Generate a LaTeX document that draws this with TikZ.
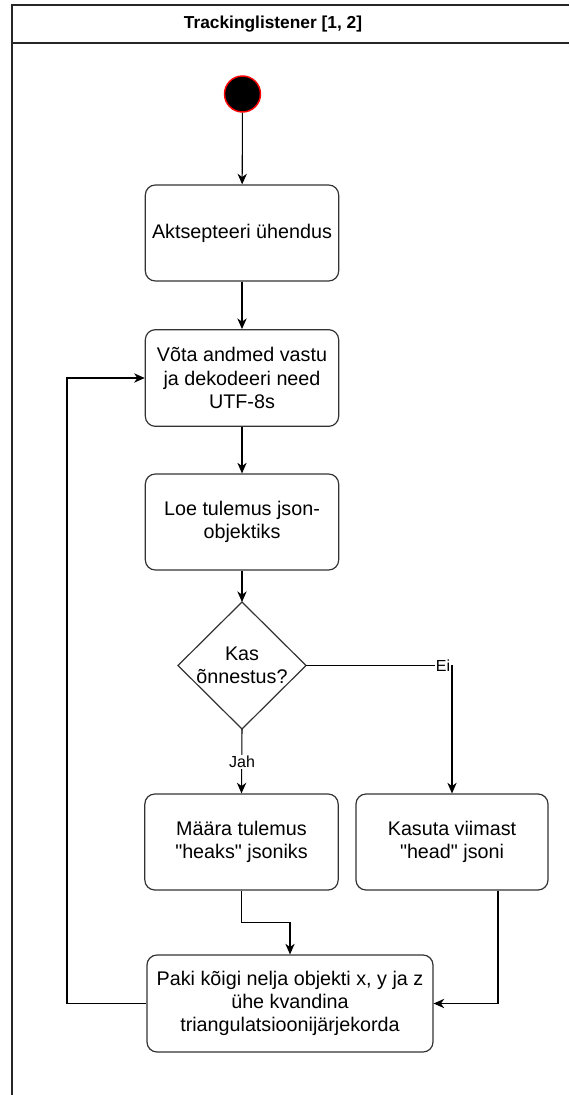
\documentclass[tikz,border=0pt]{standalone}
\usepackage{fontspec}
\setmainfont{Liberation Sans}[Ligatures=TeXOff]
\usetikzlibrary{arrows.meta,calc}

\tikzset{
  px/.style={x=0.75pt,y=-0.75pt},
  stepbox/.style={draw=black!80, line width=0.9pt, rounded corners=7.5pt, fill=white,
    align=center, inner sep=0pt, font=\fontsize{14.8}{17.3}\selectfont},
  flow/.style={draw=black, line width=0.8pt, -{Stealth[length=8pt,width=7pt,inset=2.5pt]}},
  edgelabel/.style={fill=white, inner sep=1pt, font=\fontsize{12}{14}\selectfont},
  frame/.style={draw=black!85, line width=1.1pt},
}

\begin{document}
\begin{tikzpicture}[px]
  \useasboundingbox (0,0) rectangle (569,1095);

  % swimlane frame with its title band
  \draw[frame] (569,5) -- (12,5) -- (12,1095);
  \draw[frame] (12,43) -- (569,43);
  \node[font=\bfseries\fontsize{13}{15}\selectfont] (title) at (273,24) {Trackinglistener [1, 2]};

  % initial state
  \node[circle, fill=black, draw=red, line width=1.1pt, minimum size=27pt, inner sep=0pt] (start) at (242.5,94) {};

  % actions
  \node[stepbox, minimum width=145pt, minimum height=72pt] (accept) at (242,233) {Aktsepteeri ühendus};
  \node[stepbox, minimum width=145pt, minimum height=72.5pt] (receive) at (242,378) {Võta andmed vastu\\ja dekodeeri need\\UTF-8s};
  \node[stepbox, minimum width=145pt, minimum height=72pt] (parse) at (242,522) {Loe tulemus json-\\objektiks};
  \node[stepbox, minimum width=145pt, minimum height=72pt] (setgood) at (241.5,842) {Määra tulemus\\"heaks" jsoniks};
  \node[stepbox, minimum width=144pt, minimum height=72pt] (uselast) at (452,842) {Kasuta viimast\\"head" jsoni};
  \node[stepbox, minimum width=214.5pt, minimum height=72.75pt] (pack) at (290,1003.5) {Paki kõigi nelja objekti x, y ja z\\ühe kvandina\\triangulatsioonijärjekorda};

  % decision
  \node[align=center, inner sep=0pt, font=\fontsize{14.8}{17.3}\selectfont] (ok) at (242,665.5) {Kas\\õnnestus?};
  \coordinate (okN) at ($(ok)+(0,-63.5)$);
  \coordinate (okS) at ($(ok)+(0,63.5)$);
  \coordinate (okE) at ($(ok)+(64,0)$);
  \coordinate (okW) at ($(ok)+(-64,0)$);
  \draw[draw=black!80, line width=0.9pt] (okN) -- (okE) -- (okS) -- (okW) -- cycle;

  % connectors
  \draw[flow] (start) -- (accept);
  \draw[flow] (accept) -- (receive);
  \draw[flow] (receive) -- (parse);
  \draw[flow] (parse) -- (okN);

  \coordinate (noturn) at (uselast.north |- okE);
  \draw[flow] (okE) -- (noturn) -- (uselast.north);
  \node[edgelabel] (no) at (443,666) {Ei};

  \draw[flow] (okS) -- (setgood.north);
  \node[edgelabel] (yes) at (242,762) {Jah};

  \coordinate (gbend) at ($(setgood.south)+(0,32)$);
  \draw[flow] (setgood.south) -- (gbend) -| (pack.north);

  \coordinate (lastout) at ($(uselast.south)+(46,0)$);
  \draw[flow] (lastout) |- (pack.east);

  \coordinate (loopx) at (67,0);
  \draw[flow] (pack.west) -- (loopx |- pack.west) -- (loopx |- receive.west) -- (receive.west);
\end{tikzpicture}
\end{document}
